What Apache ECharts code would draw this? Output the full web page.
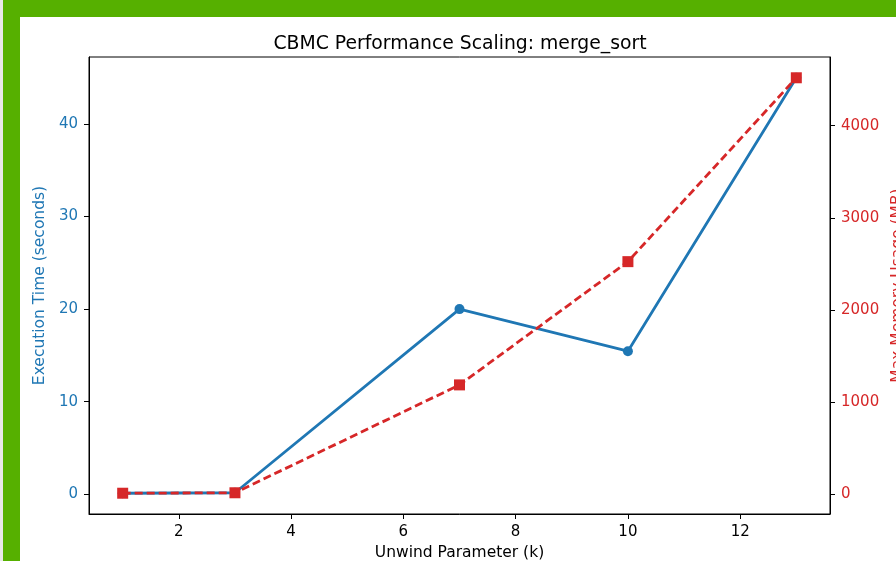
<!DOCTYPE html>
<html>
<head>
<meta charset="utf-8">
<script src="https://cdn.jsdelivr.net/npm/echarts@6/dist/echarts.min.js"></script>
<style>
html,body{margin:0;padding:0;background:#fff;}
#c{width:896px;height:561px;}
</style>
</head>
<body>
<div id="c"></div>
<script>
const unwindK = [1, 3, 7, 10, 13];
const execTime = [0.1, 0.15, 20.0, 15.45, 45.0];
const memoryMB = [10, 15, 1186, 2524, 4520];
const xTicks = [2, 4, 6, 8, 10, 12];
const leftTicks = [0, 10, 20, 30, 40];
const rightTicks = [0, 1000, 2000, 3000, 4000];

const BLUE = '#1f77b4', RED = '#d62728';
function padRange(arr) {
  const mn = Math.min(...arr), mx = Math.max(...arr), r = mx - mn;
  return [mn - 0.05 * r, mx + 0.05 * r];
}
const xr = padRange(unwindK), lr = padRange(execTime), rr = padRange(memoryMB);
const FONT = 'DejaVu Sans';

const chart = echarts.init(document.getElementById('c'));
chart.setOption({
  backgroundColor: '#fff',
  animation: false,
  title: {
    text: 'CBMC Performance Scaling: merge_sort',
    left: 455, top: 30, textAlign: 'center',
    textStyle: {fontFamily: FONT, fontSize: 18.8, fontWeight: 'normal', color: '#000'}
  },
  graphic: [
    {type: 'rect', shape: {x: 0, y: 0, width: 3, height: 561}, style: {fill: '#e8e8e8'}, silent: true},
    {type: 'rect', shape: {x: 3, y: 0, width: 17, height: 561}, style: {fill: '#56b000'}, silent: true},
    {type: 'rect', shape: {x: 3, y: 0, width: 893, height: 17}, style: {fill: '#56b000'}, silent: true}
  ],
  grid: {left: 89, top: 57, right: 66, bottom: 47, outerBoundsMode: 'none', containLabel: false,
         show: true, borderColor: '#000', borderWidth: 1, backgroundColor: 'transparent'},
  xAxis: {
    type: 'value', min: xr[0], max: xr[1],
    name: 'Unwind Parameter (k)', nameLocation: 'middle', nameGap: 31,
    nameTextStyle: {fontFamily: FONT, fontSize: 15.5, color: '#000'},
    axisLine: {show: true, onZero: false, lineStyle: {color: '#000', width: 1}},
    axisTick: {show: true, length: 5, customValues: xTicks, lineStyle: {color: '#000'}},
    axisLabel: {customValues: xTicks, margin: 11, fontFamily: FONT, fontSize: 15, color: '#000'},
    splitLine: {show: false}
  },
  yAxis: [{
    type: 'value', position: 'left', min: lr[0], max: lr[1],
    name: 'Execution Time (seconds)', nameLocation: 'middle', nameRotate: 90, nameGap: 36,
    nameTextStyle: {fontFamily: FONT, fontSize: 15.5, color: BLUE},
    axisLine: {show: true, onZero: false, lineStyle: {color: '#000', width: 1}},
    axisTick: {show: true, length: 5, customValues: leftTicks, lineStyle: {color: '#000'}},
    axisLabel: {customValues: leftTicks, margin: 11, fontFamily: FONT, fontSize: 15, color: BLUE},
    splitLine: {show: false}
  }, {
    type: 'value', position: 'right', min: rr[0], max: rr[1],
    name: 'Max Memory Usage (MB)', nameLocation: 'middle', nameRotate: 90, nameGap: 57,
    nameTextStyle: {fontFamily: FONT, fontSize: 15.5, color: RED},
    axisLine: {show: true, onZero: false, lineStyle: {color: '#000', width: 1}},
    axisTick: {show: true, length: 5, customValues: rightTicks, lineStyle: {color: '#000'}},
    axisLabel: {customValues: rightTicks, margin: 11, fontFamily: FONT, fontSize: 15, color: RED,
                formatter: v => String(v)},
    splitLine: {show: false}
  }],
  series: [{
    type: 'line', yAxisIndex: 0,
    data: unwindK.map((k, i) => [k, execTime[i]]),
    symbol: 'circle', symbolSize: 10,
    lineStyle: {color: BLUE, width: 2.8},
    itemStyle: {color: BLUE},
    z: 2
  }, {
    type: 'line', yAxisIndex: 1,
    data: unwindK.map((k, i) => [k, memoryMB[i]]),
    symbol: 'rect', symbolSize: 11,
    lineStyle: {color: RED, width: 2.8, type: [8, 4]},
    itemStyle: {color: RED},
    z: 3
  }]
});
</script>
</body>
</html>
